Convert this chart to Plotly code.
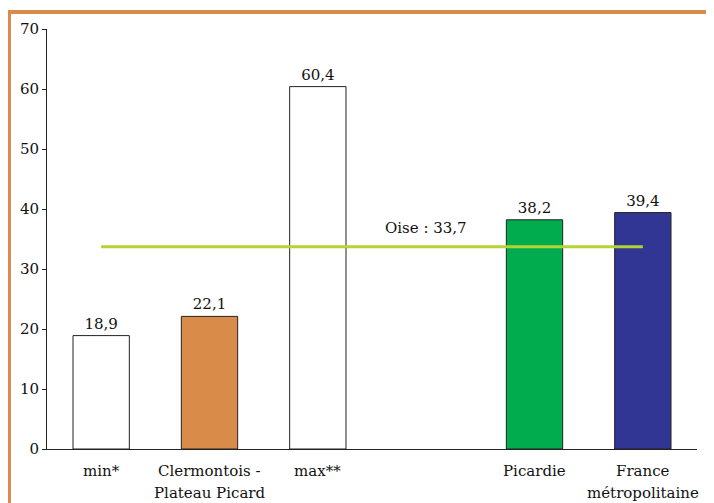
import plotly.graph_objects as go

categories = ["min*", "Clermontois -<br>Plateau Picard", "max**", "", "Picardie", "France<br>métropolitaine"]
bar_positions = [0, 1, 2, 4, 5]
bar_labels = ["min*", "Clermontois - Plateau Picard", "max**", "Picardie", "France métropolitaine"]
values = [18.9, 22.1, 60.4, 38.2, 39.4]
bar_colors = ["#FFFFFF", "#D98C4A", "#FFFFFF", "#00AC4E", "#313594"]
oise_value = 33.7
y_ticks = [0, 10, 20, 30, 40, 50, 60, 70]

font_family = "DejaVu Serif"
txt = dict(family=font_family, size=15, color="#111111")

fig = go.Figure()
fig.add_trace(go.Bar(
    x=bar_positions, y=values,
    marker=dict(color=bar_colors, line=dict(color="#222222", width=1)),
    width=0.52,
    text=[f"{v:.1f}".replace(".", ",") for v in values],
    textposition="outside",
    textfont=txt,
    cliponaxis=False,
    hovertext=bar_labels,
))
fig.add_trace(go.Scatter(
    x=[bar_positions[0], bar_positions[-1]], y=[oise_value, oise_value],
    mode="lines", line=dict(color="#B5D334", width=3),
))
fig.add_annotation(
    x=3.0, y=oise_value, xref="x", yref="y",
    text="Oise : " + f"{oise_value:.1f}".replace(".", ","),
    showarrow=False, yanchor="bottom", yshift=8,
    font=txt,
)

# category labels (two-line ones with wider spacing)
for i, cat in enumerate(categories):
    for j, line in enumerate(cat.split("<br>")):
        if not line:
            continue
        fig.add_annotation(
            x=i, y=0, xref="x", yref="paper", text=line, showarrow=False,
            yanchor="middle", yshift=-22 - 22 * j, font=txt,
        )

# orange frame (top and left)
fig.add_shape(type="line", xref="paper", yref="paper", x0=-0.0585, x1=1.05, y0=1.0405, y1=1.0405,
              line=dict(color="#D98C4A", width=4))
fig.add_shape(type="line", xref="paper", yref="paper", x0=-0.0585, x1=-0.0585, y0=-0.2, y1=1.045,
              line=dict(color="#D98C4A", width=4))

fig.update_layout(
    width=706, height=495,
    margin=dict(l=39, r=17, t=21, b=54),
    paper_bgcolor="white", plot_bgcolor="white",
    showlegend=False,
    font=txt,
    xaxis=dict(
        range=[-0.5, 5.5], tickmode="array", tickvals=list(range(6)), showticklabels=False,
        showline=True, linecolor="#222222", linewidth=1, ticks="", showgrid=False,
        zeroline=False,
    ),
    yaxis=dict(
        range=[0, 70], tickvals=y_ticks, showline=True, linecolor="#222222", linewidth=1,
        ticks="outside", ticklen=4, tickcolor="#222222", showgrid=False, zeroline=False,
        tickfont=txt,
    ),
)

fig.write_html("out.html")
